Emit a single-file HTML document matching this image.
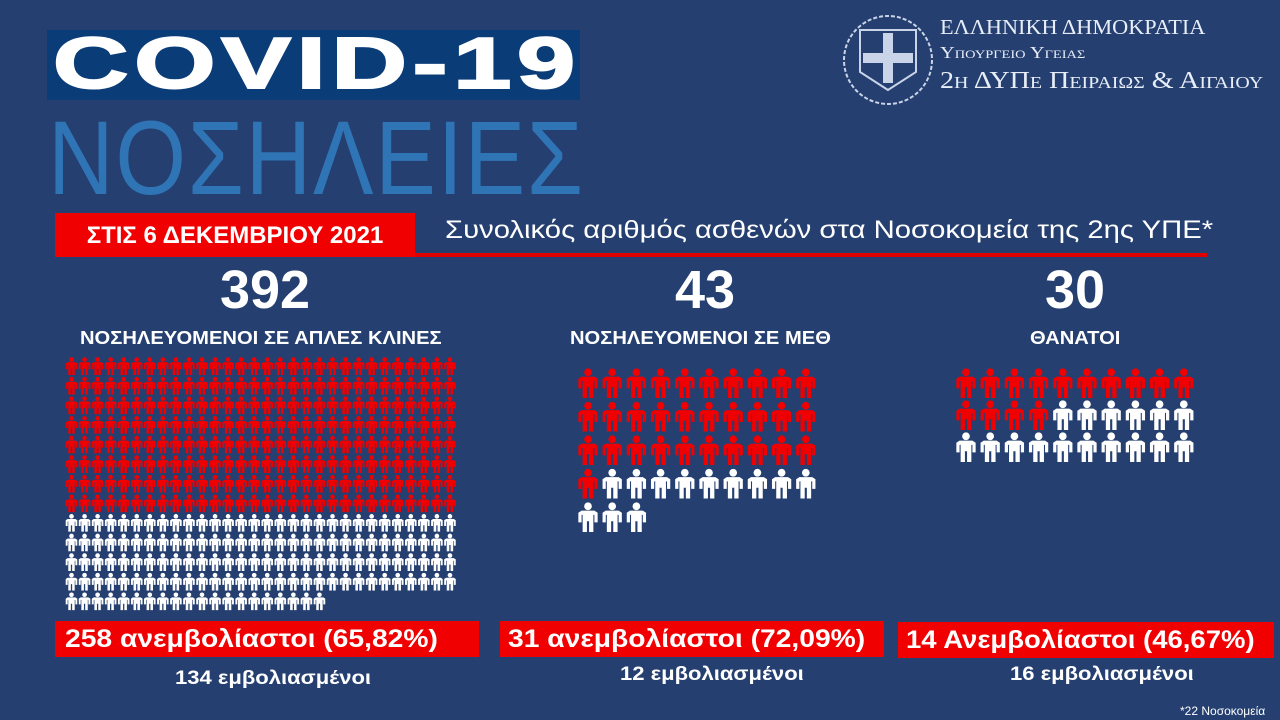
<!DOCTYPE html>
<html><head><meta charset="utf-8"><style>
body{margin:0;width:1280px;height:720px;overflow:hidden;background:#253f71;font-family:"Liberation Sans",sans-serif;position:relative}
.a{position:absolute;white-space:nowrap}
.sx{transform-origin:left center}
svg{position:absolute;left:0;top:0}
</style></head><body>
<div class="a" style="left:47px;top:30px;width:533px;height:70px;background:#0a3c78"></div>
<div class="a sx" style="left:53px;top:28px;font:900 72px/72px 'Liberation Sans',sans-serif;color:#fff;letter-spacing:4px;transform:scaleX(1.45);-webkit-text-stroke:2px #fff">COVID-19</div>
<div class="a sx" style="left:48px;top:106px;font:105px/105px 'Liberation Sans',sans-serif;color:#2f74b5;letter-spacing:2px;transform:scaleX(0.865)">ΝΟΣΗΛΕΙΕΣ</div>
<div class="a" style="left:415px;top:253px;width:792px;height:4px;background:#e00000"></div>
<div class="a" style="left:55px;top:213px;width:360px;height:44px;background:#f00000"></div>
<div class="a" style="left:55px;top:213px;width:360px;height:44px;text-align:center;font:bold 24px/46px 'Liberation Sans',sans-serif;color:#fff">ΣΤΙΣ 6 ΔΕΚΕΜΒΡΙΟΥ 2021</div>
<div class="a sx" style="left:445px;top:215px;font:25px/30px 'Liberation Sans',sans-serif;color:#fff;transform:scaleX(1.17)">Συνολικός αριθμός ασθενών στα Νοσοκομεία της 2ης ΥΠΕ*</div>
<div class="a" style="left:180px;top:262px;width:170px;text-align:center;font:bold 54px/56px 'Liberation Sans',sans-serif;color:#fff">392</div>
<div class="a" style="left:620px;top:262px;width:170px;text-align:center;font:bold 54px/56px 'Liberation Sans',sans-serif;color:#fff">43</div>
<div class="a" style="left:990px;top:262px;width:170px;text-align:center;font:bold 54px/56px 'Liberation Sans',sans-serif;color:#fff">30</div>
<div class="a sx" style="left:80px;top:327px;font:bold 18px/22px 'Liberation Sans',sans-serif;color:#fff;transform:scaleX(1.12)">ΝΟΣΗΛΕΥΟΜΕΝΟΙ ΣΕ ΑΠΛΕΣ ΚΛΙΝΕΣ</div>
<div class="a sx" style="left:570px;top:327px;font:bold 18px/22px 'Liberation Sans',sans-serif;color:#fff;transform:scaleX(1.12)">ΝΟΣΗΛΕΥΟΜΕΝΟΙ ΣΕ ΜΕΘ</div>
<div class="a sx" style="left:1030px;top:327px;font:bold 18px/22px 'Liberation Sans',sans-serif;color:#fff;transform:scaleX(1.12)">ΘΑΝΑΤΟΙ</div>
<div class="a" style="left:55px;top:621px;width:424px;height:36px;background:#f00000"></div>
<div class="a" style="left:500px;top:621px;width:384px;height:36px;background:#f00000"></div>
<div class="a" style="left:898px;top:622px;width:376px;height:36px;background:#f00000"></div>
<div class="a sx" style="left:65px;top:621px;font:bold 25px/36px 'Liberation Sans',sans-serif;color:#fff;transform:scaleX(1.13)">258 ανεμβολίαστοι (65,82%)</div>
<div class="a sx" style="left:508px;top:621px;font:bold 25px/36px 'Liberation Sans',sans-serif;color:#fff;transform:scaleX(1.13)">31 ανεμβολίαστοι (72,09%)</div>
<div class="a sx" style="left:906px;top:622px;font:bold 25px/36px 'Liberation Sans',sans-serif;color:#fff;transform:scaleX(1.1)">14 Ανεμβολίαστοι (46,67%)</div>
<div class="a sx" style="left:175px;top:667px;font:bold 19px/24px 'Liberation Sans',sans-serif;color:#fff;transform:scaleX(1.16)">134 εμβολιασμένοι</div>
<div class="a sx" style="left:620px;top:663px;font:bold 19px/24px 'Liberation Sans',sans-serif;color:#fff;transform:scaleX(1.16)">12 εμβολιασμένοι</div>
<div class="a sx" style="left:1010px;top:663px;font:bold 19px/24px 'Liberation Sans',sans-serif;color:#fff;transform:scaleX(1.16)">16 εμβολιασμένοι</div>
<div class="a" style="left:1180px;top:703px;font:12px/16px 'Liberation Sans',sans-serif;color:#fff">*22 Νοσοκομεία</div>
<div class="a sx" style="left:940px;top:14px;font:21px/26px 'Liberation Serif',serif;color:#e8eef8;transform:scaleX(1.06)">ΕΛΛΗΝΙΚΗ ΔΗΜΟΚΡΑΤΙΑ</div>
<div class="a sx" style="left:940px;top:42px;font:17px/22px 'Liberation Serif',serif;color:#e8eef8;font-variant:small-caps;transform:scaleX(1.2)">Υπουργειο Υγειασ</div>
<div class="a sx" style="left:940px;top:66px;font:24px/30px 'Liberation Serif',serif;color:#e8eef8;font-variant:small-caps;transform:scaleX(1.17)">2η ΔΥΠε Πειραιωσ &amp; Αιγαιου</div>
<svg width="1280" height="720" id="s">
<defs><symbol id="p" viewBox="0 0 20 28"><circle cx="10" cy="4" r="3.6"/><path d="M4 8h12l3 2v9h-3v-7h-1v16h-4v-10h-2v10h-4v-16h-1v7h-3v-9z"/></symbol></defs>
<g fill="none" stroke="#c9d4e8" stroke-width="2"><circle cx="888" cy="60" r="44" stroke-dasharray="4 2"/><path d="M860 30h56v42l-28 18-28-18z"/><path d="M884 34h8v20h20v8h-20v20h-8v-20h-20v-8h20z" fill="#c9d4e8"/></g>
</svg>
<script>
var s=document.getElementById('s'),N='http://www.w3.org/2000/svg';
function P(x,y,w,h,c){var u=document.createElementNS(N,'use');u.setAttribute('href','#p');u.setAttribute('x',x);u.setAttribute('y',y);u.setAttribute('width',w);u.setAttribute('height',h);u.setAttribute('fill',c);s.appendChild(u);}
for(var r=0;r<13;r++)for(var c=0;c<30;c++){if(r==12&&c>=20)continue;P(65+c*13.05,357+r*19.6,13,18,r<8?'#f00000':'#fff');}
var k=0;for(var r=0;r<5;r++)for(var c=0;c<10;c++){if(k>=43)break;P(577+c*24.2,368+r*33.5,22,30,k<31?'#f00000':'#fff');k++;}
k=0;for(var r=0;r<3;r++)for(var c=0;c<10;c++){P(955+c*24.2,368+r*32,22,30,k<14?'#f00000':'#fff');k++;}
</script>
</body></html>
